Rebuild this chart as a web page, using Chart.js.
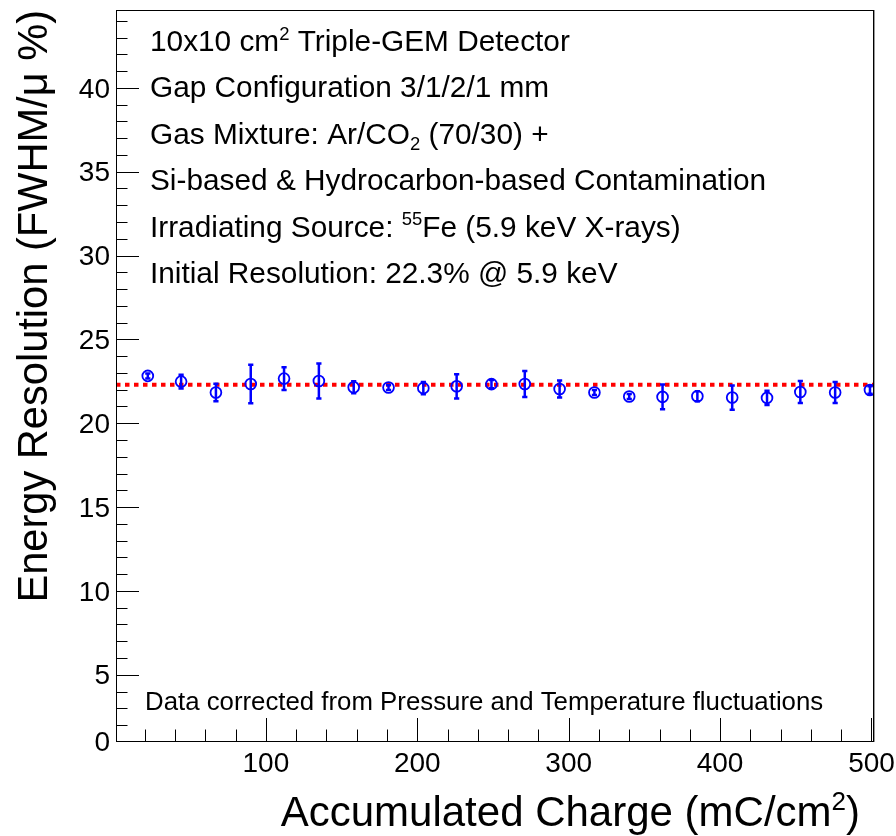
<!DOCTYPE html>
<html><head><meta charset="utf-8">
<script src="https://cdn.jsdelivr.net/npm/chart.js@4"></script>
<style>html,body{margin:0;padding:0;background:#fff}#wrap{width:896px;height:836px;position:relative}canvas{display:block}</style>
</head><body><div id="wrap"><canvas id="c" width="896" height="836"></canvas></div>
<script>
// ---- data ----
const charge = [22,44,67,90,112,135,158,181,204,226,249,271,294,317,340,362,385,408,431,453,476,499];
const resolution = [22.82,22.48,21.83,22.34,22.66,22.52,22.14,22.13,22.09,22.20,22.33,22.34,22.04,21.83,21.59,21.57,21.61,21.53,21.51,21.86,21.83,21.98];
const resolutionErr = [0.15,0.41,0.52,1.15,0.68,1.04,0.36,0.15,0.37,0.72,0.25,0.78,0.51,0.15,0.15,0.74,0.30,0.72,0.42,0.65,0.63,0.22];
const initialResolution = 22.3;

const X_MIN = 1, X_MAX = 501, Y_MIN = 1.05, Y_MAX = 44.64;
const xTickValues = [100,200,300,400,500];
const xTickLabels = ['100','200','300','400','500'];
const yTickValues = [Y_MIN,5,10,15,20,25,30,35,40];
const yTickLabels = ['0','5','10','15','20','25','30','35','40'];
const xMinorStep = 20, yMinorStep = 1;

const xTitle = [{t:'Accumulated Charge (mC/cm'},{t:'2',s:'sup'},{t:')'}];
const yTitle = [{t:'Energy Resolution (FWHM/\u03bc %)'}];
const infoLines = [
  [{t:'10x10 cm'},{t:'2',s:'sup'},{t:' Triple-GEM Detector'}],
  [{t:'Gap Configuration 3/1/2/1 mm'}],
  [{t:'Gas Mixture: Ar/CO'},{t:'2',s:'sub'},{t:' (70/30) +'}],
  [{t:'Si-based & Hydrocarbon-based Contamination'}],
  [{t:'Irradiating Source: '},{t:'55',s:'sup'},{t:'Fe (5.9 keV X-rays)'}],
  [{t:'Initial Resolution: 22.3% @ 5.9 keV'}]
];
const noteText = [{t:'Data corrected from Pressure and Temperature fluctuations'}];

const FONT = '"Liberation Sans", Arial, Helvetica, sans-serif';
const BLUE = '#0000ff', RED = '#ff0000';

function richWidth(ctx, segs, size){
  let w = 0;
  for (const sg of segs){
    const fs = sg.s ? size*0.62 : size;
    ctx.font = fs + 'px ' + FONT;
    w += ctx.measureText(sg.t).width;
  }
  return w;
}
function drawRich(ctx, x, y, segs, size){
  let cx = x;
  for (const sg of segs){
    const fs = sg.s ? size*0.62 : size;
    const dy = sg.s === 'sup' ? -size*0.38 : (sg.s === 'sub' ? size*0.2 : 0);
    ctx.font = fs + 'px ' + FONT;
    ctx.fillText(sg.t, cx, y + dy);
    cx += ctx.measureText(sg.t).width;
  }
}

const rootPlugin = {
  id: 'rootStyle',
  afterDatasetsDraw(chart){
    const ctx = chart.ctx, xs = chart.scales.x, ys = chart.scales.y;
    ctx.save();
    ctx.strokeStyle = BLUE;
    ctx.lineWidth = 2.5;
    for (let i = 0; i < charge.length; i++){
      const px = xs.getPixelForValue(charge[i]);
      const y1 = ys.getPixelForValue(resolution[i] + resolutionErr[i]);
      const y2 = ys.getPixelForValue(resolution[i] - resolutionErr[i]);
      ctx.beginPath();
      ctx.moveTo(px, y1); ctx.lineTo(px, y2);
      ctx.moveTo(px-2.6, y1); ctx.lineTo(px+2.6, y1);
      ctx.moveTo(px-2.6, y2); ctx.lineTo(px+2.6, y2);
      ctx.stroke();
    }
    ctx.restore();
  },
  afterDraw(chart){
    const ctx = chart.ctx, a = chart.chartArea, xs = chart.scales.x, ys = chart.scales.y;
    ctx.save();
    // frame
    ctx.strokeStyle = '#000'; ctx.lineWidth = 1;
    ctx.strokeRect(Math.round(a.left)+0.5, Math.round(a.top)+0.5, Math.round(a.right-a.left), Math.round(a.bottom-a.top));
    ctx.strokeStyle = '#999';
    ctx.beginPath(); ctx.moveTo(Math.round(a.right)+1.5, a.top); ctx.lineTo(Math.round(a.right)+1.5, a.bottom+1); ctx.stroke();
    ctx.strokeStyle = '#000';
    // y ticks
    ctx.beginPath();
    for (let v = Math.ceil(Y_MIN); v <= Y_MAX; v += yMinorStep){
      const py = Math.round(ys.getPixelForValue(v)) + 0.5;
      const major = v % 5 === 0;
      ctx.moveTo(a.left, py); ctx.lineTo(a.left + (major ? 23 : 11.5), py);
    }
    // x ticks
    for (let v = xMinorStep; v <= X_MAX; v += xMinorStep){
      const px = Math.round(xs.getPixelForValue(v)) + 0.5;
      const major = v % 100 === 0;
      ctx.moveTo(px, a.bottom); ctx.lineTo(px, a.bottom - (major ? 23 : 11.5));
    }
    ctx.stroke();
    // tick labels
    ctx.fillStyle = '#000';
    ctx.font = '28px ' + FONT;
    ctx.textAlign = 'right'; ctx.textBaseline = 'middle';
    yTickValues.forEach((v,i) => {
      ctx.fillText(yTickLabels[i], a.left - 6, ys.getPixelForValue(v) + 2);
    });
    ctx.textAlign = 'center'; ctx.textBaseline = 'alphabetic';
    xTickValues.forEach((v,i) => {
      ctx.fillText(xTickLabels[i], xs.getPixelForValue(v), a.bottom + 31);
    });
    // axis titles
    ctx.textAlign = 'left';
    const xtw = richWidth(ctx, xTitle, 42);
    drawRich(ctx, 860 - xtw, 826, xTitle, 42);
    ctx.save();
    ctx.translate(47, 10);
    ctx.rotate(-Math.PI/2);
    const ytw = richWidth(ctx, yTitle, 41.6);
    drawRich(ctx, -ytw, 0, yTitle, 41.6);
    ctx.restore();
    // info text
    infoLines.forEach((ln, i) => drawRich(ctx, 150, 51 + i*46.4, ln, 29.8));
    drawRich(ctx, 145, 710, noteText, 25.8);
    ctx.restore();
  }
};

new Chart(document.getElementById('c').getContext('2d'), {
  type: 'scatter',
  data: {
    datasets: [
      { type: 'line', label: 'initial',
        data: [{x: X_MIN, y: initialResolution}, {x: X_MAX, y: initialResolution}],
        borderColor: RED, borderWidth: 4, borderDash: [4.5, 4.5], pointRadius: 0, fill: false, order: 2 },
      { label: 'resolution',
        data: charge.map((x, i) => ({x, y: resolution[i]})),
        pointStyle: 'circle', pointRadius: 5.4, borderColor: BLUE, borderWidth: 1.8,
        backgroundColor: 'rgba(0,0,0,0)', order: 1 }
    ]
  },
  options: {
    responsive: false, animation: false, devicePixelRatio: 1,
    layout: { padding: { left: 116, right: 23, top: 10, bottom: 95 } },
    plugins: { legend: { display: false }, tooltip: { enabled: false } },
    scales: {
      x: { type: 'linear', min: X_MIN, max: X_MAX, display: false },
      y: { type: 'linear', min: Y_MIN, max: Y_MAX, display: false }
    }
  },
  plugins: [rootPlugin]
});
</script></body></html>
